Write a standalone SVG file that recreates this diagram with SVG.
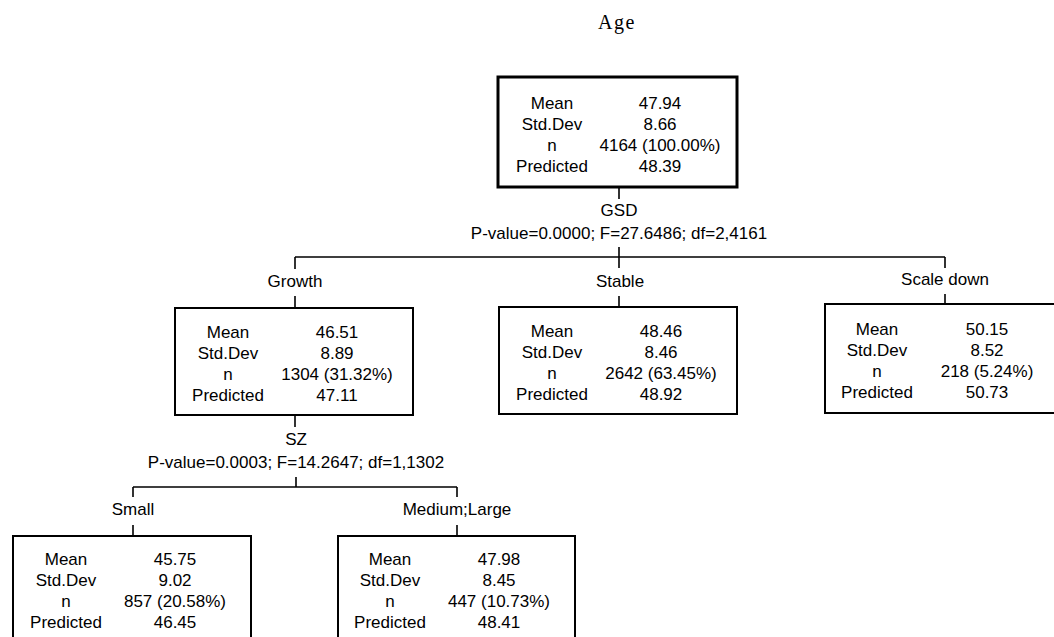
<svg xmlns="http://www.w3.org/2000/svg" width="1054" height="637" viewBox="0 0 1054 637">
<style>
.t{font-family:"Liberation Sans",Arial,sans-serif;font-size:17px;fill:#000;text-anchor:middle}
.title{font-family:"Liberation Serif","Times New Roman",serif;font-size:20px;fill:#000;text-anchor:middle;letter-spacing:1.5px}
.box{fill:#fff;stroke:#000;stroke-width:2}
.root{fill:#fff;stroke:#000;stroke-width:3}
.c{stroke:#000;stroke-width:1.6;fill:none}
</style>
<rect width="1054" height="637" fill="#fff"/>
<text class="title" x="617" y="29">Age</text>
<g id="connectors">
<path class="c" d="M619 187V199M619 247V268M295 257H945M295 257V269M945 257V268M295 296V308M619 296V307M945 294V304"/>
<path class="c" d="M295 415V427M296 477V487M133 487H457M133 487V497M457 487V497M133 525V536M457 525V536"/>
<text class="t" x="619" y="216">GSD</text>
<text class="t" x="619" y="239">P-value=0.0000; F=27.6486; df=2,4161</text>
<text class="t" x="295" y="287">Growth</text>
<text class="t" x="620" y="287">Stable</text>
<text class="t" x="945" y="285">Scale down</text>
<text class="t" x="296" y="445">SZ</text>
<text class="t" x="296" y="468">P-value=0.0003; F=14.2647; df=1,1302</text>
<text class="t" x="133" y="515">Small</text>
<text class="t" x="457" y="515">Medium;Large</text>
</g>
<g id="node-root">
<rect class="root" x="498" y="77" width="239" height="110"/>
<text class="t" x="552" y="109">Mean</text><text class="t" x="660" y="109">47.94</text>
<text class="t" x="552" y="130">Std.Dev</text><text class="t" x="660" y="130">8.66</text>
<text class="t" x="552" y="151">n</text><text class="t" x="660" y="151">4164 (100.00%)</text>
<text class="t" x="552" y="172">Predicted</text><text class="t" x="660" y="172">48.39</text>
</g>
<g id="node-growth">
<rect class="box" x="175" y="308" width="238" height="107"/>
<text class="t" x="228" y="338">Mean</text><text class="t" x="337" y="338">46.51</text>
<text class="t" x="228" y="359">Std.Dev</text><text class="t" x="337" y="359">8.89</text>
<text class="t" x="228" y="380">n</text><text class="t" x="337" y="380">1304 (31.32%)</text>
<text class="t" x="228" y="401">Predicted</text><text class="t" x="337" y="401">47.11</text>
</g>
<g id="node-stable">
<rect class="box" x="499" y="307" width="238" height="107"/>
<text class="t" x="552" y="337">Mean</text><text class="t" x="661" y="337">48.46</text>
<text class="t" x="552" y="358">Std.Dev</text><text class="t" x="661" y="358">8.46</text>
<text class="t" x="552" y="379">n</text><text class="t" x="661" y="379">2642 (63.45%)</text>
<text class="t" x="552" y="400">Predicted</text><text class="t" x="661" y="400">48.92</text>
</g>
<g id="node-scaledown">
<rect class="box" x="825" y="304" width="238" height="109"/>
<text class="t" x="877" y="335">Mean</text><text class="t" x="987" y="335">50.15</text>
<text class="t" x="877" y="356">Std.Dev</text><text class="t" x="987" y="356">8.52</text>
<text class="t" x="877" y="377">n</text><text class="t" x="987" y="377">218 (5.24%)</text>
<text class="t" x="877" y="398">Predicted</text><text class="t" x="987" y="398">50.73</text>
</g>
<g id="node-small">
<rect class="box" x="13" y="536" width="238" height="120"/>
<text class="t" x="66" y="565">Mean</text><text class="t" x="175" y="565">45.75</text>
<text class="t" x="66" y="586">Std.Dev</text><text class="t" x="175" y="586">9.02</text>
<text class="t" x="66" y="607">n</text><text class="t" x="175" y="607">857 (20.58%)</text>
<text class="t" x="66" y="628">Predicted</text><text class="t" x="175" y="628">46.45</text>
</g>
<g id="node-mediumlarge">
<rect class="box" x="338" y="536" width="237" height="120"/>
<text class="t" x="390" y="565">Mean</text><text class="t" x="499" y="565">47.98</text>
<text class="t" x="390" y="586">Std.Dev</text><text class="t" x="499" y="586">8.45</text>
<text class="t" x="390" y="607">n</text><text class="t" x="499" y="607">447 (10.73%)</text>
<text class="t" x="390" y="628">Predicted</text><text class="t" x="499" y="628">48.41</text>
</g>
</svg>
